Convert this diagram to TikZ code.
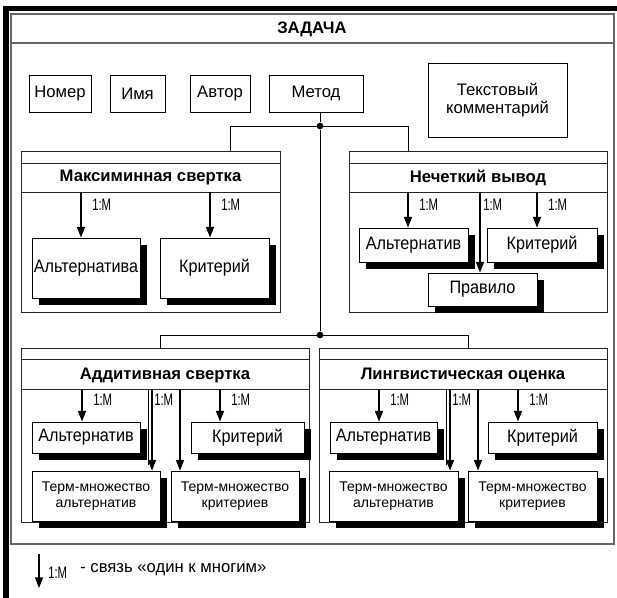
\documentclass[tikz,border=0pt]{standalone}
\usepackage{fontspec}
\setmainfont{Liberation Sans}
\newfontfamily\entfont[FakeStretch=0.9]{Liberation Sans}
\newfontfamily\cardfont[FakeStretch=0.68]{Liberation Sans}
\usetikzlibrary{arrows.meta,shadows}
\tikzset{
  dims/.style 2 args={minimum width=#1pt, minimum height=#2pt},
  plainbox/.style={draw, line width=0.6pt, fill=white, inner sep=0pt,
    font=\fontsize{12.5}{14}\selectfont},
  entbox/.style={plainbox, font=\entfont\fontsize{13.5}{15}\selectfont,
    drop shadow={shadow xshift=5pt, shadow yshift=-5pt, fill=black, opacity=1}},
  termbox/.style={entbox, align=center, font=\fontsize{10.5}{12.5}\selectfont},
  card/.style={font=\cardfont\fontsize{12.5}{13}\selectfont, inner sep=0pt, anchor=west},
  rel/.style={line width=1pt, -{Triangle[length=8pt,width=6pt]}},
  wire/.style={line width=0.6pt},
  cframe/.style={draw=black!85, line width=0.6pt},
  ctitle/.style={font=\bfseries\fontsize{12.5}{14}\selectfont, inner sep=0pt},
  jdot/.style={circle, fill, inner sep=0pt, minimum size=5pt}
}
\begin{document}
\begin{tikzpicture}[x=0.75pt, y=-0.75pt]
\useasboundingbox (0,0) rectangle (617,598);

% heavy black edge along the top and left
\fill (3,6) rectangle (617,11);
\fill (3,6) rectangle (9,598);

% outer frame with its title strip
\draw[draw=black!60, line width=1pt] (11,14) rectangle (614,544);
\draw[draw=black!60, line width=1pt] (11,43) -- (614,43);
\node[ctitle] (task) at (312,29) {ЗАДАЧА};

% attribute boxes
\node[plainbox, dims={46.5}{27.75}] (num) at (60,93.5) {Номер};
\node[plainbox, dims={41.25}{27.75}] (name) at (137.5,93.5) {Имя};
\node[plainbox, dims={45}{27.75}] (auth) at (220,93.5) {Автор};
\node[plainbox, dims={70.5}{27.75}] (meth) at (316,93.5) {Метод};
\node[plainbox, align=center, dims={104.25}{55.5}] (note) at (497.5,100) {Текстовый\\комментарий};

% ---- Максиминная свертка
\draw[cframe] (21,151) rectangle (280,312);
\draw[cframe] (21,163) -- (280,163);
\draw[cframe] (21,192) -- (280,192);
\node[ctitle] (tmx) at (150.5,177.5) {Максиминная свертка};
\coordinate (mxtop) at (230,151);

% ---- Нечеткий вывод
\draw[cframe] (349,151) rectangle (607,312);
\draw[cframe] (349,163) -- (607,163);
\draw[cframe] (349,192) -- (607,192);
\node[ctitle] (tfz) at (478,177.5) {Нечеткий вывод};
\coordinate (fztop) at (408,151);

% ---- Аддитивная свертка
\draw[cframe] (21,348) rectangle (309,522);
\draw[cframe] (21,359) -- (309,359);
\draw[cframe] (21,389) -- (309,389);
\node[ctitle] (tad) at (165,375) {Аддитивная свертка};
\coordinate (adtop) at (160,348);

% ---- Лингвистическая оценка
\draw[cframe] (319,348) rectangle (607,522);
\draw[cframe] (319,359) -- (607,359);
\draw[cframe] (319,389) -- (607,389);
\node[ctitle] (tln) at (463,375) {Лингвистическая оценка};
\coordinate (lntop) at (468,348);

% method tree
\node[jdot] (j1) at (320,126) {};
\node[jdot] (j2) at (320,335) {};
\draw[wire] (meth.south -| j1) -- (j1) -- (j2);
\draw[wire] (mxtop) -- (mxtop |- j1) -- (fztop |- j1) -- (fztop);
\draw[wire] (adtop) -- (adtop |- j2) -- (lntop |- j2) -- (lntop);

% entities of Максиминная свертка
\node[entbox, dims={81}{45}] (alt1) at (86,268) {Альтернатива};
\node[entbox, dims={81.75}{45}] (kr1) at (214.5,268) {Критерий};
\coordinate (m1) at (81,192);
\coordinate (m2) at (210,192);
\draw[rel] (m1) -- (m1 |- alt1.north);
\draw[rel] (m2) -- (m2 |- kr1.north);
\node[card] (c1) at (92,205) {1:M};
\node[card] (c2) at (221,205) {1:M};

% entities of Нечеткий вывод
\node[entbox, dims={81.75}{24.75}] (rule) at (482.5,289.5) {Правило};
\node[entbox, dims={81.75}{25.5}] (alt2) at (413.5,245) {Альтернатив};
\node[entbox, dims={82.5}{25.5}] (kr2) at (542,245) {Критерий};
\coordinate (f1) at (408,192);
\coordinate (f2) at (480,192);
\coordinate (f3) at (537,192);
\draw[rel] (f1) -- (f1 |- alt2.north);
\draw[rel] (f2) -- (f2 |- rule.north);
\draw[rel] (f3) -- (f3 |- kr2.north);
\node[card] (c3) at (419,205) {1:M};
\node[card] (c4) at (483,205) {1:M};
\node[card] (c5) at (548,205) {1:M};

% entities of Аддитивная свертка
\node[termbox, dims={96}{37.5}] (ta3) at (96,496) {Терм-множество\\альтернатив};
\node[termbox, dims={96}{37.5}] (tk3) at (235,496) {Терм-множество\\критериев};
\node[entbox, dims={81}{23.25}] (alt3) at (86,437.5) {Альтернатив};
\node[entbox, dims={84.75}{23.25}] (kr3) at (247.5,437.5) {Критерий};
\coordinate (a1) at (82,389);
\coordinate (a2) at (152,389);
\coordinate (a2s) at (148,389);
\coordinate (a3) at (180,389);
\coordinate (a4) at (220,389);
\draw[rel] (a1) -- (a1 |- alt3.north);
\draw[wire] (a2s) -- ([yshift=4pt]a2s |- ta3.north);
\draw[rel] (a2) -- (a2 |- ta3.north);
\draw[rel] (a3) -- (a3 |- tk3.north);
\draw[rel] (a4) -- (a4 |- kr3.north);
\node[card] (c6) at (93,400) {1:M};
\node[card] (c7) at (154,400) {1:M};
\node[card] (c8) at (231,400) {1:M};

% entities of Лингвистическая оценка
\node[termbox, dims={96.75}{37.5}] (ta4) at (393.5,496) {Терм-множество\\альтернатив};
\node[termbox, dims={96.75}{37.5}] (tk4) at (532.5,496) {Терм-множество\\критериев};
\node[entbox, dims={80.25}{23.25}] (alt4) at (383.5,437.5) {Альтернатив};
\node[entbox, dims={81.75}{23.25}] (kr4) at (542.5,437.5) {Критерий};
\coordinate (l1) at (379,389);
\coordinate (l2) at (450,389);
\coordinate (l2s) at (446,389);
\coordinate (l3) at (478,389);
\coordinate (l4) at (518,389);
\draw[rel] (l1) -- (l1 |- alt4.north);
\draw[wire] (l2s) -- ([yshift=4pt]l2s |- ta4.north);
\draw[rel] (l2) -- (l2 |- ta4.north);
\draw[rel] (l3) -- (l3 |- tk4.north);
\draw[rel] (l4) -- (l4 |- kr4.north);
\node[card] (c9) at (390,400) {1:M};
\node[card] (c10) at (452,400) {1:M};
\node[card] (c11) at (529,400) {1:M};

% legend
\coordinate (lg) at (39,554);
\coordinate (lgend) at (39,588);
\draw[rel] (lg) -- (lgend);
\node[card] (lgc) at (48,573) {1:M};
\node[anchor=west, inner sep=0pt, font=\fontsize{12.5}{14}\selectfont] (lgt) at (80,570) {- связь «один к многим»};
\end{tikzpicture}
\end{document}
